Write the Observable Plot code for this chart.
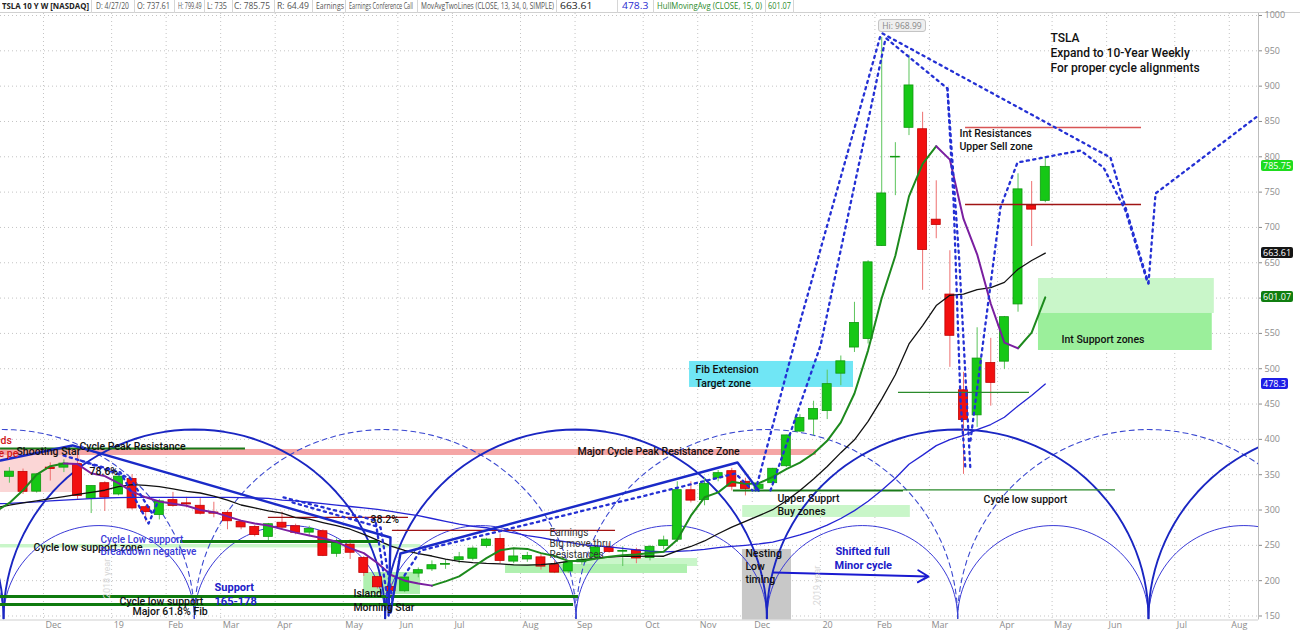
<!DOCTYPE html>
<html><head><meta charset="utf-8">
<script src="https://cdn.jsdelivr.net/npm/d3@7"></script>
<script src="https://cdn.jsdelivr.net/npm/@observablehq/plot@0.6"></script>
<style>
html,body{margin:0;padding:0;background:#fff;}
#wrap{position:relative;width:1300px;height:634px;overflow:hidden;font-family:"Open Sans",sans-serif;}
#hdr{position:absolute;left:0;top:0;width:1300px;height:13px;border-bottom:1px solid #d0d0d0;box-sizing:border-box;}
.cell{position:absolute;top:0px;font-size:9px;line-height:12px;white-space:nowrap;color:#555;transform-origin:0 0;}
.sep{position:absolute;top:0;width:1px;height:13px;background:#d6d6d6;}
#chart{position:absolute;left:0;top:13px;}
#chart svg{overflow:visible;}
.tag{position:absolute;height:11px;line-height:11px;font-size:9px;color:#fff;padding:0 2px;border-radius:2px;font-family:"Open Sans",sans-serif;}
.hi{position:absolute;height:11px;line-height:11px;font-size:8.5px;color:#888;padding:0 3px;border:1px solid #c4c4c4;background:#efefef;border-radius:3px;}
</style></head><body><div id="wrap"><div id="hdr"></div><div id="chart"></div></div>
<script>
// ---------------- DATA ----------------
const firstWeek = "2018-11-12"; // Monday of the first weekly bar
const opens  = [347,354,326,360,360,365,316,338,322,344, 304,293,314,309.5,306,296.5,296,283,276,262, 282,277,268,270,238,251,232,205,191,185, 210,216,222.5,229,231,249,259,227,230,233, 222,213,226,233,247,241,243,232,249,258, 328,314,345,355,340,330,338,362,411,428, 440,493,530,542,673.7,799,841,839,711,605, 469.5,434,508,510,591,731,737.61];
const highs  = [360,358,351,366.8,371,385,334,340,348,350, 306,315,325,318,316,311,299,285,278,281, 297,280,277,272,259,258,234,206,196,210, 218,228,230,240,248,260,266,246,240,238, 228,227,233,249,253,248,246,250,263,340, 340,345,356,359,345,337,359,406,435,454, 498,518,594,653,968.99,820,944,863,766,667, 494.9,558,543,574,776,765,799.49];
const lows   = [338,322,324,341,353,315,295,298,320,300, 283,286,304,303,293,289,272,272,262,256, 272,265,262,234,233,230,206,188,176.9,183, 204,213,216,224,228,246,224,224,226,215, 210,210,222,230,239,220,224,228,244,254, 310,306,340,327,320,325,333,360,410,405, 428,476,523,535,673,745,830,611,684,502, 350.5,417,447,499,580,673,735];
const closes = [354.3,325.8,350.5,358,365.7,319.8,333.9,317.7,347.3,302.3, 297,312.2,305.8,307.9,294.7,294.8,284.1,275.4,264.5,279.9, 275,267.8,273.3,235.1,255,239.5,211,190.6,185.2,204.5, 214.9,221.9,223.5,233.1,245.4,258.2,228,234.3,235,219.9, 211.4,225.6,229.6,247.1,240.6,242.1,231.4,247.9,257,328.1, 313.3,337.1,352.2,333,329.9,335.9,358.4,405.6,430.4,443, 478.2,510.5,564.8,650.6,748.1,800,901,668,703.5,546.6, 427.5,514.4,480,573,753.9,725.2,785.75];

// indicator values, one per week starting one week before the first bar
const sma13 = [303,307,310,313,316,319,322,325,328,333,336, 335,333,330,326.5,324.1,319.8,314.1,307.1,302.9,298.7, 295.5,289.3,287.1,282.3,277.9,272.8,265.4,257.4,249,242.8, 238.2,234.9,230.6,227.3,225.6,224.5,223.9,222.3,222,222.7, 224.3,227.4,229.3,231.8,233.2,234.6,234.5,234.7,234.6,242.3, 248.4,256.2,266.4,275.8,283.8,292,300.5,313.2,327.7,344, 361.7,381.2,399.4,425.4,457,491.4,535.1,561.1,589.4,603.9, 605.6,612,614.9,622.2,640.9,653.2,663.6];
const sma34 = [309,309.5,310.5,311.5,313,314,315,316,317,317.5,318, 318,318,318,318,318,318,318,317.5,317,316.5, 314,313,311,309,307,305,303,301,298,295, 292,288,284,280.1,276.9,274.9,271.3,267.6,263.8,260.8, 257.2,254.5,251.1,249.4,247.8,245.7,243.5,241.8,240.7,241.6, 242.5,244.3,246.9,248.5,250.1,252.1,254.6,259.6,264.8,270.7, 278.6,288,299.2,312.3,328,345,364.9,377.7,391.2,399.7, 405.5,413.8,421,431.3,447.3,462,478.3];
const hull  = [298,310,328,350,362,366,365,352,348,338,326, 318,312,309,306,300,297,291,285,281,278, 273,268,264,260,255,246,239,225,208,200, 196,193,199,206,219,232,243,246,245,239, 235,228,228,231,234,236,237,239,241,258, 292,318,325,340,337,338,347,358,367,380, 398,424,465,526,600,660,744,790,815,796, 712,662,592,537,529,551,601];
const hullTurns = [4, 31, 68, 74]; // week indexes where the Hull MA changes direction

const priceTicks = [150,200,250,300,350,400,450,500,550,600,650,700,750,800,850,900,950,1000];
const monthTicks = ["2018-12-03","2019-01-07","2019-02-04","2019-03-04","2019-04-01","2019-05-06","2019-06-03","2019-07-01","2019-08-05","2019-09-02","2019-10-07","2019-11-04","2019-12-02","2020-01-06","2020-02-03","2020-03-02","2020-04-06","2020-05-04","2020-06-01","2020-07-06","2020-08-03"];
const monthLabels = ["Dec","19","Feb","Mar","Apr","May","Jun","Jul","Aug","Sep","Oct","Nov","Dec","20","Feb","Mar","Apr","May","Jun","Jul","Aug"];

// cycle lows (alternating major / minor)
const cycleLows = ["2018-04-27","2018-08-03","2018-11-09","2019-02-15","2019-05-24","2019-08-30","2019-12-06","2020-03-13","2020-06-19","2020-09-25","2021-01-01"];
const cycleBase = 146.5, majorCyclePeak = 414, minorCyclePeak = 278;

// zones (w = weeks from first bar, p = price)
const resistanceBand = [{w1:-0.65,w2:59.21,p1:377.2,p2:385.7}];
const pinkBox = [{w1:-0.65,w2:5.22,p1:324.8,p2:380}];
const supportLight = [{w1:-0.65,w2:30.16,p1:246.3,p2:251.2},{w1:42.1,w2:50.5,p1:220.1,p2:231.4},{w1:53.8,w2:66.1,p1:289.5,p2:306.4},{w1:75.5,w2:88.4,p1:578.2,p2:627.7}];
const supportMid = [{w1:26.0,w2:30.16,p1:180.5,p2:211.6},{w1:36.4,w2:49.75,p1:210.2,p2:222.9}];
const supportStrong = [{w1:75.5,w2:88.25,p1:525.8,p2:578.2}];
const fibZone = [{w1:49.9,w2:61.93,p1:473.5,p2:510.3}];
const nestingZone = [{w1:53.78,w2:57.38,p1:144.33,p2:244.2}];

// horizontal levels
const greenThick = [{w1:-0.65,w2:41.75,p:177.6},{w1:-0.65,w2:41.39,p:166.3},{w1:12.55,w2:27.08,p:255.5}];
const greenMid = [{w1:-0.65,w2:17.32,p:387.1},{w1:53.12,w2:65.6,p:327.7}];
const greenThin = [{w1:65.6,w2:81.15,p:328.5},{w1:65.23,w2:74.84,p:466.4}];
const redDark = [{w1:19.0,w2:29.28,p:289.5},{w1:28.1,w2:44.47,p:271.1},{w1:70.15,w2:83.06,p:732.5}];
const redLight = [{w1:70.15,w2:83.06,p:841.5}];

// trend lines and projection paths: [week, price]
const trendLines = [
  {id:"t1", pts:[[-0.65,370.1],[4.63,391.4],[27.96,261.1],[27.82,150.7]]},
  {id:"t2", pts:[[27.96,155],[28.69,238.5],[53.42,367.3],[54.96,327.7]]}
];
const projections = [
  {id:"a", pts:[[54.74,327.7],[58.04,568.3],[63.91,971.7]]},
  {id:"b", pts:[[55.84,327.7],[59.51,532.9],[64.28,967.4]]},
  {id:"c", pts:[[64.06,974.5],[80.78,799],[83.57,620.7]]},
  {id:"d", pts:[[64.35,967.4],[68.82,896.7],[69.27,738.1],[69.78,455.1],[70.15,356]]},
  {id:"e", pts:[[68.82,896.7],[69.7,650],[70.51,356]]},
  {id:"f", pts:[[70.51,398.4],[72.71,728.2],[73.96,791.9],[78.58,808.9],[80.27,784.9],[81.88,724],[83.5,622.1]]},
  {id:"g", pts:[[83.57,620.7],[84.09,748.1],[91.64,858.5]]},
  {id:"h", pts:[[3.97,377.2],[8.15,353.2],[10.21,280.9],[10.94,313.5]]},
  {id:"i", pts:[[5.22,370.1],[8.88,344.7],[10.57,292.3]]},
  {id:"j", pts:[[20.11,317.8],[26.86,285.2],[27.81,164.9]]},
  {id:"k", pts:[[20.77,310.7],[27.23,275.3],[28.11,171.9]]},
  {id:"l", pts:[[28.99,207.4],[30.16,242.7],[53.27,351.7],[54.52,327.7]]}
];
const shiftArrow = [{w1:56.06,p1:211.6,w2:67.43,p2:205.9}];

// notes [week, price, text]
const bigNotes = [[76.38,967.4,"TSLA"],[76.38,946.2,"Expand to 10-Year Weekly"],[76.38,925,"For proper cycle alignments"]];
const mainNotes = [[69.7,833,"Int Resistances"],[69.7,814.6,"Upper Sell zone"],[77.19,541.4,"Int Support zones"],[50.34,498.9,"Fib Extension"],[50.34,479.1,"Target zone"],[56.35,316.3,"Upper Supprt"],[56.35,297.9,"Buy zones"],[71.47,314.9,"Cycle low support"],[41.68,382.9,"Major Cycle Peak Resistance Zone"],[5.14,389.9,"Cycle Peak Resistance"],[0.52,382.9,"Shooting Star"],[5.88,354.6,"78.6%"],[26.49,286.6,"38.2%"],[1.77,247,"Cycle low support zone"],[8.08,170.6,"Cycle low support"],[9.03,156.4,"Major 61.8% Fib"],[25.24,181.9,"Island"],[25.24,162,"Morning Star"],[54.0,238.5,"Nesting"],[54.0,220.1,"Low"],[54.0,201.7,"timing"]];
const grayNotes = [[39.63,268.2,"Earnings"],[39.63,252.6,"Big move thru"],[39.63,237,"Resistances"]];
const blueNotes = [[6.69,258.3,"Cycle Low support"],[6.69,241.3,"Breakdown negatieve"]];
const blueBold = [[15.05,190.4,"Support"],[15.05,170.6,"165-178"],[60.61,241.3,"Shifted full"],[60.54,221.5,"Minor cycle"]];
const redNotes = [[-0.65,398.4,"ds"],[-0.8,380.5,"e pe"]];
const fadeNotes = [[59.29,193.2,"2019 year"],[7.2,203.1,"2018 year"]];

const headerTexts = ["TSLA 10 Y W [NASDAQ]","D: 4/27/20","O: 737.61","H: 799.49","L: 735","C: 785.75","R: 64.49","Earnings","Earnings Conference Call","MovAvgTwoLines (CLOSE, 13, 34, 0, SIMPLE)","663.61","478.3","HullMovingAvg (CLOSE, 15, 0)","601.07"];
const tagValues = [785.75, 663.61, 601.07, 478.3];

// ---------------- BUILD ----------------
const T0 = Date.parse(firstWeek + "T00:00:00Z");
const DAY = 864e5;
const wk = n => new Date(T0 + n * 7 * DAY);
const W = 1300, H = 621, mR = 42, mB = 14.5;
const yMin = 144.33, yMax = 1002.83;
const xDomain = [new Date(T0 - 4.571 * DAY), new Date(T0 + 641.5 * DAY)];

const candles = opens.map((o, i) => ({i, date: wk(i), open: o, high: highs[i], low: lows[i], close: closes[i]}));
const upC = candles.filter(d => d.close >= d.open), dnC = candles.filter(d => d.close < d.open);
const series = arr => arr.map((v, k) => ({date: wk(k - 1), w: k - 1, v}));

// Hull segments by direction
const hullRows = series(hull);
const bounds = [-1, ...hullTurns, 76];
const hullUp = [], hullDown = [];
for (let s = 0; s < bounds.length - 1; s++) {
  const seg = hullRows.filter(d => d.w >= bounds[s] && d.w <= bounds[s + 1]).map(d => ({...d, seg: s}));
  (s % 2 === 0 ? hullUp : hullDown).push(...seg);
}

// cycle arcs
function arc(a, b, peak, id) {
  const t1 = Date.parse(a + "T00:00:00Z"), t2 = Date.parse(b + "T00:00:00Z");
  const mid = (t1 + t2) / 2, half = (t2 - t1) / 2;
  const out = [];
  for (let k = 0; k <= 60; k++) {
    const th = Math.PI * k / 60;
    out.push({id, date: new Date(mid - Math.cos(th) * half), v: cycleBase + (peak - cycleBase) * Math.sin(th)});
  }
  return out;
}
const thinArcs = [], bigArcs = [], dashArcs = [];
for (let i = 0; i < cycleLows.length - 1; i++) thinArcs.push(...arc(cycleLows[i], cycleLows[i + 1], minorCyclePeak, "m" + i));
for (let i = 0; i < cycleLows.length - 2; i++) (i % 2 === 0 ? bigArcs : dashArcs).push(...arc(cycleLows[i], cycleLows[i + 2], majorCyclePeak, "M" + i));

const flat = list => list.flatMap(l => l.pts.map(([w, p]) => ({id: l.id, date: wk(w), v: p})));
const zone = (data, fill) => Plot.rect(data, {x1: d => wk(d.w1), x2: d => wk(d.w2), y1: "p1", y2: "p2", fill});
const level = (data, stroke, sw) => Plot.ruleY(data, {y: "p", x1: d => wk(d.w1), x2: d => wk(d.w2), stroke, strokeWidth: sw});
const notes = (data, o) => Plot.text(data, {x: d => wk(d[0]), y: d => d[1], text: d => d[2], textAnchor: "start", fontFamily: "Roboto", ...o});
const gridDates = monthTicks.map(s => new Date(Date.parse(s + "T00:00:00Z") - 3.5 * DAY));

const chart = Plot.plot({
  width: W, height: H, marginLeft: 0, marginRight: mR, marginTop: 0, marginBottom: mB,
  style: {fontFamily: "Open Sans", fontSize: "9px", color: "#8c8c8c", background: "transparent", overflow: "visible"},
  x: {type: "utc", domain: xDomain, axis: null},
  y: {domain: [yMin, yMax], axis: "right", ticks: priceTicks, tickSize: 3, tickPadding: 3, label: null, tickFormat: d => String(d)},
  marks: [
    Plot.ruleY(priceTicks, {stroke: "#c4c4c4", strokeDasharray: "1,3"}),
    Plot.ruleX(gridDates, {stroke: "#c4c4c4", strokeDasharray: "1,3"}),
    Plot.text(gridDates, {x: d => d, text: (d, i) => monthLabels[i], frameAnchor: "bottom", dy: 8, dx: 2, textAnchor: "start", fill: "#8c8c8c", fontSize: 9}),
    zone(pinkBox, "#fbd6d6"),
    zone(resistanceBand, "#f5a5a5"),
    zone(supportLight, "#c9f6c9"),
    zone(supportMid, "#aff0af"),
    zone(supportStrong, "#9bef9b"),
    zone(fibZone, "#70e6f5"),
    zone(nestingZone, "#c8c8c8"),
    Plot.line(thinArcs, {x: "date", y: "v", z: "id", stroke: "#3a3ad6", strokeWidth: 1, clip: true}),
    Plot.line(dashArcs, {x: "date", y: "v", z: "id", stroke: "#3a48d0", strokeWidth: 1.1, strokeDasharray: "5,4", clip: true}),
    Plot.line(bigArcs, {x: "date", y: "v", z: "id", stroke: "#1a26c2", strokeWidth: 1.9, clip: true}),
    Plot.ruleX(upC, {x: "date", y1: "low", y2: "high", stroke: "#5cc45c", strokeWidth: 1}),
    Plot.ruleX(dnC, {x: "date", y1: "low", y2: "high", stroke: "#ee7070", strokeWidth: 1}),
    Plot.rect(upC, {x1: d => wk(d.i - 0.33), x2: d => wk(d.i + 0.33), y1: "open", y2: "close", fill: "#16c816", stroke: "#109810", strokeWidth: 0.8}),
    Plot.rect(dnC, {x1: d => wk(d.i - 0.33), x2: d => wk(d.i + 0.33), y1: "open", y2: "close", fill: "#f21010", stroke: "#c00000", strokeWidth: 0.8}),
    level(greenThick, "#0f7a0f", 3),
    level(greenMid, "#1a7a1a", 2),
    level(greenThin, "#2b8a2b", 1.3),
    level(redDark, "#a01414", 1.3),
    level(redLight, "#d85555", 1.5),
    Plot.line(series(sma34), {x: "date", y: "v", stroke: "#2424d4", strokeWidth: 1.3, clip: true}),
    Plot.line(series(sma13), {x: "date", y: "v", stroke: "#111", strokeWidth: 1.3, clip: true}),
    Plot.line(hullUp, {x: "date", y: "v", z: "seg", stroke: "#1d8a1d", strokeWidth: 2, clip: true}),
    Plot.line(hullDown, {x: "date", y: "v", z: "seg", stroke: "#7a1fa0", strokeWidth: 2, clip: true}),
    Plot.line(flat(trendLines), {x: "date", y: "v", z: "id", stroke: "#1a2ac8", strokeWidth: 2.4, clip: true}),
    Plot.line(flat(projections), {x: "date", y: "v", z: "id", stroke: "#2430d4", strokeWidth: 2.3, strokeDasharray: "2.2,4.3", clip: true}),
    Plot.arrow(shiftArrow, {x1: d => wk(d.w1), y1: "p1", x2: d => wk(d.w2), y2: "p2", stroke: "#1a1ad0", strokeWidth: 2, headLength: 9}),
    notes(fadeNotes, {fill: "#d8d8d8", fontSize: 9, rotate: -90, textAnchor: "middle"}),
    notes(bigNotes, {fill: "#111", fontSize: 12, fontWeight: 500}),
    notes(mainNotes, {fill: "#111", fontSize: 10.5, fontWeight: 500}),
    notes(grayNotes, {fill: "#333", fontSize: 10, fontWeight: 400}),
    notes(blueNotes, {fill: "#3a3ad8", fontSize: 10, fontWeight: 500}),
    notes(blueBold, {fill: "#2020c8", fontSize: 11, fontWeight: 700}),
    notes(redNotes, {fill: "#d01818", fontSize: 10.5, fontWeight: 500}),
    Plot.ruleX([xDomain[1]], {stroke: "#bdbdbd"}),
    Plot.ruleY([yMin], {stroke: "#cfcfcf"})
  ]
});
document.getElementById("chart").appendChild(chart);

// ---------- overlays (header, price tags, high label) ----------
const yS = d3.scaleLinear().domain([yMin, yMax]).range([H - mB, 0]);
const xS = d3.scaleUtc().domain(xDomain).range([0, W - mR]);
const wrap = document.getElementById("wrap");
const tagColors = ["#1edc1e", "#151515", "#107e10", "#1e1ee6"];
tagValues.forEach((v, i) => {
  const el = document.createElement("div");
  el.className = "tag"; el.textContent = String(v);
  el.style.background = tagColors[i];
  el.style.left = (W - mR + 3) + "px";
  el.style.top = (13 + yS(v) - 6) + "px";
  wrap.appendChild(el);
});
const hiEl = document.createElement("div");
hiEl.className = "hi"; hiEl.textContent = "Hi: " + d3.max(highs);
hiEl.style.left = (xS(wk(highs.indexOf(d3.max(highs)))) - 3) + "px";
hiEl.style.top = (13 + yS(d3.max(highs)) - 18) + "px";
wrap.appendChild(hiEl);

const hdr = document.getElementById("hdr");
const cellSpan = [[2,89],[96,129],[137,170],[178,201],[207,227],[234,270],[277,309],[316,344],[349,413],[421,554],[560,593],[622,650],[657,762],[768,791]];
const cellColor = ["#222","#555","#555","#555","#555","#555","#555","#555","#555","#555","#222","#2a2ad0","#2a8a2a","#2a8a2a"];
const seps = [91,134,174,204,232,274,312,345,417,556,617,653,765,793];
seps.forEach(x => { const s = document.createElement("div"); s.className = "sep"; s.style.left = x + "px"; hdr.appendChild(s); });
headerTexts.forEach((t, i) => {
  const c = document.createElement("div");
  c.className = "cell"; c.textContent = t;
  c.style.left = cellSpan[i][0] + "px"; c.style.color = cellColor[i];
  if (i === 0) c.style.fontWeight = "700";
  hdr.appendChild(c);
  const nat = c.getBoundingClientRect().width;
  const target = cellSpan[i][1] - cellSpan[i][0];
  if (nat > 0) c.style.transform = "scaleX(" + Math.max(0.6, Math.min(1.15, target / nat)).toFixed(3) + ")";
});
</script></body></html>
